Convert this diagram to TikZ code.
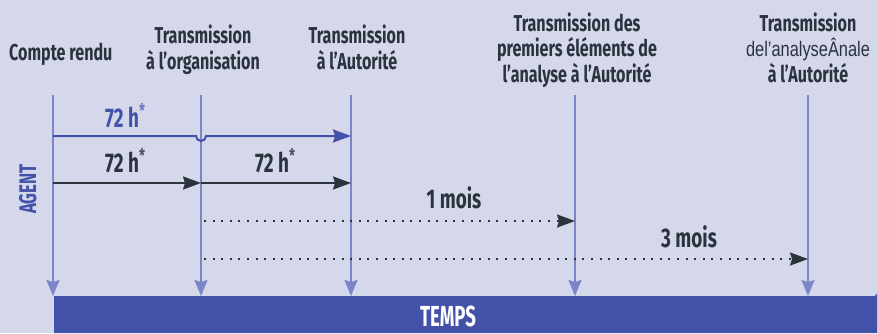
\documentclass[tikz,border=0pt]{standalone}
\usepackage{fontspec}
\setmainfont{Fira Sans}[FakeStretch=0.7]
\newfontfamily\tempsfont{Fira Sans}[FakeStretch=0.64]
\newfontfamily\thinfont{Liberation Sans}[FakeStretch=0.78]
\usetikzlibrary{arrows.meta}
\definecolor{bg}{HTML}{D5D7EB}
\definecolor{vline}{HTML}{7B86C8}
\definecolor{dblue}{HTML}{4252A8}
\definecolor{dark}{HTML}{2B333D}
\definecolor{star}{HTML}{6A78C0}
\definecolor{dstar}{HTML}{4A525C}
\tikzset{
  title/.style={font=\bfseries\fontsize{23}{25.5}\selectfont, text=dark, align=center, inner sep=0pt},
  lab/.style={font=\bfseries\fontsize{27}{28}\selectfont, text=dark, inner sep=0pt},
  timeline/.style={draw=vline, line width=2pt, -{Stealth[length=16pt,width=13pt,inset=2pt]}},
  darrow/.style={draw=dark, line width=2pt, -{Stealth[length=18pt,width=13pt,inset=2pt]}},
  dotarrow/.style={draw=dark, line width=2pt, dash pattern=on 2pt off 6.6pt, -{Stealth[length=18pt,width=13pt,inset=2pt,sep=0pt]}},
}
\begin{document}
\begin{tikzpicture}[x=1pt,y=-1pt]
\fill[bg] (0,0) rectangle (878,333);
\useasboundingbox (0,0) rectangle (878,333);
% bar
\fill[dblue] (54,296) -- (874,296) arc[start angle=90,end angle=0,radius=3] -- (877,333) -- (54,333) -- cycle;
\node[font=\tempsfont\bfseries\fontsize{29}{29}\selectfont, text=white, inner sep=0pt, text depth=0pt, anchor=base] (temps) at (448,326.5) {TEMPS};
% anchor coordinates
\coordinate (t1) at (53,95);  \coordinate (b1) at (53,296);
\coordinate (t2) at (201,95); \coordinate (b2) at (201,296);
\coordinate (t3) at (351,95); \coordinate (b3) at (351,296);
\coordinate (t4) at (575,95); \coordinate (b4) at (575,296);
\coordinate (t5) at (808,95); \coordinate (b5) at (808,296);
% titles
\node[title, anchor=base west] (h1) at (9,60) {Compte rendu};
\node[title, anchor=base] (h2) at (203,69) {Transmission\\à l’organisation};
\node[title, anchor=base] (h3) at (357,69) {Transmission\\à l’Autorité};
\node[title, anchor=base] (h4) at (577,82) {Transmission des\\premiers éléments de\\l’analyse à l’Autorité};
\node[title, anchor=base] (h5) at (808,82) {Transmission\\{\thinfont\mdseries\fontsize{21}{25.5}\selectfont del’analyseÂnale}\\à l’Autorité};
% timelines
\foreach \i in {1,...,5} \draw[timeline] (t\i) -- (b\i);
% blue arrow with hop
\coordinate (s1) at (53,136);
\coordinate (e1) at (351,136);
\draw[draw=dblue, line width=2pt, -{Stealth[length=18pt,width=13pt,inset=2pt]}]
  (s1) -- (196,136) arc[start angle=180,end angle=0,radius=5] -- (e1);
\node[lab, text=dblue, anchor=base west] (l1) at (105,127) {72\,h\textsuperscript{\color{star}*}};
% dark arrows
\coordinate (s2) at (53,183);
\coordinate (m2) at (201,183);
\coordinate (e2) at (351,183);
\draw[darrow] (s2) -- (m2);
\draw[darrow] (m2) -- (e2);
\node[lab, anchor=base west] (l2) at (105,172) {72\,h\textsuperscript{\color{dstar}*}};
\node[lab, anchor=base west] (l3) at (255,172) {72\,h\textsuperscript{\color{dstar}*}};
% dotted arrows
\coordinate (s3) at (204,221); \coordinate (e3) at (575,221);
\coordinate (s4) at (204,259); \coordinate (e4) at (808,259);
\draw[dotarrow] (s3) -- (e3);
\draw[dotarrow] (s4) -- (e4);
\node[lab, anchor=base] (l4) at (454,208) {1 mois};
\node[lab, anchor=base] (l5) at (689,247) {3 mois};
% agent
\node[font=\bfseries\fontsize{24}{24}\selectfont, text=dblue, rotate=90, inner sep=0pt, anchor=base] (agent) at (36,189) {AGENT};
\end{tikzpicture}
\end{document}
